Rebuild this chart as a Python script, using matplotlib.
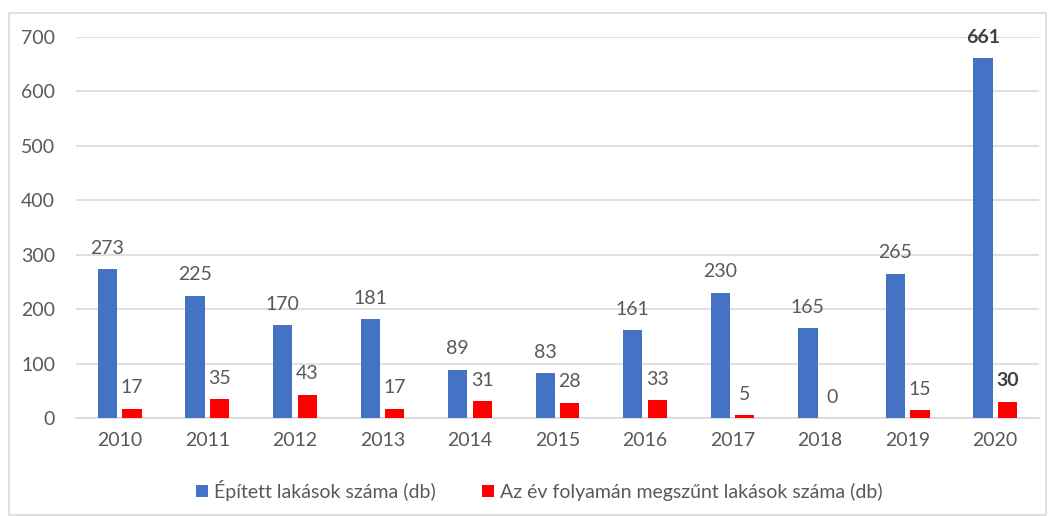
import matplotlib
matplotlib.use('Agg')
import matplotlib.pyplot as plt
import numpy as np
from matplotlib.patches import Rectangle

# adatok
years = ['2010', '2011', '2012', '2013', '2014', '2015', '2016', '2017', '2018', '2019', '2020']
epitett = [273, 225, 170, 181, 89, 83, 161, 230, 165, 265, 661]
megszunt = [17, 35, 43, 17, 31, 28, 33, 5, 0, 15, 30]
label_epitett = 'Épített lakások száma (db)'
label_megszunt = 'Az év folyamán megszűnt lakások száma (db)'

plt.rcParams['font.family'] = ['Lato', 'DejaVu Sans']
text_color = '#595959'
grid_color = '#d9d9d9'

fig = plt.figure(figsize=(10.53, 5.16), dpi=100)
ax = fig.add_axes([0.0722, 0.1899, 0.9145, 0.7384])

x = np.arange(len(years))
width = 0.22
offset = 0.14
bars1 = ax.bar(x - offset, epitett, width, color='#4472C4', label=label_epitett, zorder=3)
bars2 = ax.bar(x + offset, megszunt, width, color='#FF0000', label=label_megszunt, zorder=3)

# értékcímkék, az utolsó év félkövér
last = len(years) - 1
for bars in [bars1, bars2]:
    for i, bar in enumerate(bars):
        h = bar.get_height()
        bold = i == last
        ax.annotate(f'{h:.0f}',
                    xy=(bar.get_x() + bar.get_width() / 2, h),
                    xytext=(0, 15), textcoords='offset points',
                    ha='center', va='center', fontsize=14,
                    color='#404040' if bold else text_color,
                    fontweight='bold' if bold else 'normal',
                    annotation_clip=False)

ax.set_xlim(-0.5, len(years) - 0.5)
ax.set_ylim(0, 700)
ax.set_yticks(range(0, 701, 100))
ax.set_xticks(x)
ax.set_xticklabels(years)
ax.tick_params(axis='both', length=0, labelsize=14, colors=text_color)
ax.tick_params(axis='y', pad=15)
ax.tick_params(axis='x', pad=10)
ax.grid(True, axis='y', color=grid_color, linewidth=1.2, zorder=0)
for side in ['left', 'right', 'top']:
    ax.spines[side].set_visible(False)
ax.spines['bottom'].set_color(grid_color)
ax.spines['bottom'].set_linewidth(1.2)

fig.legend(loc='center', bbox_to_anchor=(0.512, 0.05), ncol=2, frameon=False,
           fontsize=14, handlelength=0.6, handleheight=0.6, handletextpad=0.3,
           columnspacing=2.4, labelcolor=text_color)

# külső keret
fig.patches.append(Rectangle((9 / 1053, 1 / 516), 1037 / 1053, 502 / 516,
                             transform=fig.transFigure, fill=False,
                             edgecolor='#d9d9d9', linewidth=1.2))

plt.savefig('out.png', dpi=100)
plt.close()
